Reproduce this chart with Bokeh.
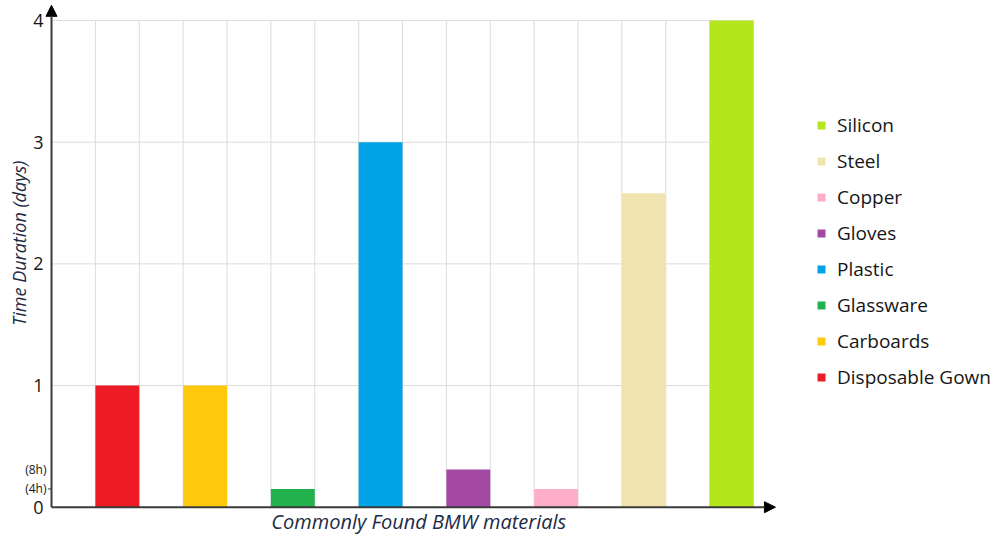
import math
from bokeh.plotting import figure
from bokeh.models import (ColumnDataSource, Range1d, Arrow, NormalHead, Legend, LegendItem)
from bokeh.core.properties import value
from bokeh.embed import file_html
from bokeh.resources import INLINE

# ---- data ----
categories = ["Disposable Gown", "Carboards", "Glassware", "Plastic",
              "Gloves", "Copper", "Steel", "Silicon"]
durations = [1.0, 1.0, 0.15, 3.0, 0.31, 0.15, 2.58, 4.0]
colors = ["#ED1C24", "#FFC90E", "#22B14C", "#00A2E8",
          "#A349A4", "#FFAEC9", "#EFE4B0", "#B5E61D"]
major_ticks = [0, 1, 2, 3, 4]
major_labels = ["0", "1", "2", "3", "4"]
hour_ticks = [0.15, 0.31]
hour_labels = ["(4h)", "(8h)"]
x_title = "Commonly Found BMW materials"
y_title = "Time Duration (days)"

FONT = "Open Sans"
TXT = "#161616"
NAVY = "#1d2a45"

n = len(categories)
ncols = 2 * n
ymax = max(major_ticks)

p = figure(width=998, height=535, output_backend="svg", toolbar_location=None,
           x_range=Range1d(-1.1624, 21.584), y_range=Range1d(-0.2326, 4.1646),
           min_border_left=0, min_border_right=0, min_border_top=0, min_border_bottom=0)
p.outline_line_color = None
p.grid.visible = False
p.axis.visible = False
p.background_fill_color = "white"
p.border_fill_color = "white"

# grid lines
hy = major_ticks[1:]
p.segment(x0=[0] * len(hy), y0=hy, x1=[ncols] * len(hy), y1=hy, line_color="#dcdcdc", line_width=1)
vx = list(range(1, ncols + 1))
p.segment(x0=vx, y0=[0] * len(vx), x1=vx, y1=[ymax] * len(vx), line_color="#dcdcdc", line_width=1)

# bars
src = ColumnDataSource(dict(x=[2 * i + 1.5 for i in range(n)], top=durations,
                            color=colors, cat=categories))
r = p.vbar(x="x", top="top", width=1.0, bottom=0, fill_color="color", line_color=None, source=src)

# axes as arrows
p.add_layout(Arrow(x_start=0, y_start=0, x_end=0, y_end=4.125, line_color="#3a3a3a", line_width=2,
                   end=NormalHead(size=11, fill_color="black", line_color="black")))
p.add_layout(Arrow(x_start=0, y_start=0, x_end=ncols + 0.5, y_end=0, line_color="#3a3a3a", line_width=2,
                   end=NormalHead(size=11, fill_color="black", line_color="black")))

# small tick for the 4h mark
p.segment(x0=[-0.08], y0=hour_ticks[:1], x1=[0], y1=hour_ticks[:1], line_color="#3a3a3a", line_width=1)

# y tick labels
p.text(x=[0] * len(major_ticks), y=major_ticks, text=major_labels, x_offset=-8,
       text_align="right", text_baseline="middle", text_font=value(FONT),
       text_font_size="18px", text_color=TXT)
p.text(x=[0] * len(hour_ticks), y=hour_ticks, text=hour_labels, x_offset=-5,
       text_align="right", text_baseline="middle", text_font=value(FONT),
       text_font_size="12px", text_color=TXT)

# axis titles
p.text(x=[-0.752], y=[2.17], text=[y_title], angle=math.pi / 2,
       text_align="center", text_baseline="middle", text_font=value(FONT),
       text_font_style="italic", text_font_size="18px", text_color=NAVY)
p.text(x=[8.37], y=[0], text=[x_title], y_offset=14,
       text_align="center", text_baseline="middle", text_font=value(FONT),
       text_font_style="italic", text_font_size="20px", text_color=NAVY)

# legend
items = [LegendItem(label=categories[i], renderers=[r], index=i) for i in reversed(range(n))]
leg = Legend(items=items, location=(816, 145), padding=0, margin=0,
             border_line_color=None, background_fill_alpha=0,
             glyph_width=10, glyph_height=10, label_standoff=11,
             label_height=26, spacing=10,
             label_text_font=FONT, label_text_font_size="19px", label_text_color=TXT)
p.add_layout(leg)

open("out.html", "w").write(file_html(p, INLINE))
